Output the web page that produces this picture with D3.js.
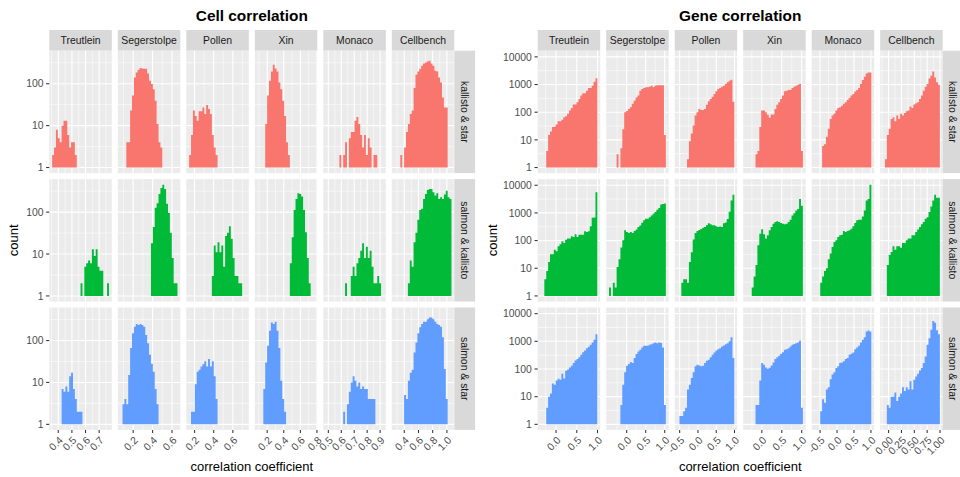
<!DOCTYPE html>
<html><head><meta charset="utf-8">
<script src="https://cdn.jsdelivr.net/npm/d3@7"></script>
<style>body{margin:0;background:#fff;} svg{display:block;font-family:"Liberation Sans",Arial,Helvetica,sans-serif;}</style>
</head><body><svg id="chart" width="960" height="477"></svg>
<script>
const datasets = ["Treutlein","Segerstolpe","Pollen","Xin","Monaco","Cellbench"];
const comparisons = ["kallisto & star","salmon & kallisto","salmon & star"];
const fills = ["#F8766D","#00BA38","#619CFF"];

// bin ranges (first bin left edge, last bin right edge), 30 bins per column
const cellBinRange = [[0.355,0.772],[0.071,0.656],[0.143,0.737],[0.085,0.770],[0.483,0.922],[0.265,1.064]];
const geneBinRange = [[-0.374,0.996],[-0.464,1.030],[-0.558,0.996],[-0.396,1.029],[-0.663,1.013],[-0.108,0.997]];

const cellXTicks = [[0.4,0.5,0.6,0.7],[0.2,0.4,0.6],[0.2,0.4,0.6],[0.2,0.4,0.6,0.8],[0.5,0.6,0.7,0.8,0.9],[0.4,0.6,0.8,1.0]];
const cellXLabels = [["0.4","0.5","0.6","0.7"],["0.2","0.4","0.6"],["0.2","0.4","0.6"],["0.2","0.4","0.6","0.8"],["0.5","0.6","0.7","0.8","0.9"],["0.4","0.6","0.8","1.0"]];
const geneXTicks = [[0,0.5,1],[0,0.5,1],[-0.5,0,0.5,1],[0,0.5,1],[-0.5,0,0.5,1],[0,0.25,0.5,0.75,1]];
const geneXLabels = [["0.0","0.5","1.0"],["0.0","0.5","1.0"],["-0.5","0.0","0.5","1.0"],["0.0","0.5","1.0"],["-0.5","0.0","0.5","1.0"],["0.00","0.25","0.50","0.75","1.00"]];
const cellYTicks = [1,10,100];
const geneYTicks = [1,10,100,1000,10000];

// Cell correlation counts (per dataset, 30 bins)
const cellKallistoStar = [
 [2,3,8,5,4,10,13,13,6,3,4,4,2,0,0,0,0,0,0,0,0,0,0,0,0,0,0,0,0,0],
 [0,0,0,4,4,23,52,141,186,215,237,232,228,228,176,118,98,74,39,11,4,3,0,0,0,0,0,0,0,0],
 [2,6,23,17,13,22,22,27,19,31,25,19,6,3,2,0,0,0,0,0,0,0,0,0,0,0,0,0,0,0],
 [0,0,0,0,11,52,117,197,282,232,197,107,74,39,17,4,2,0,0,0,0,0,0,0,0,0,0,0,0,0],
 [0,0,0,0,0,0,0,2,0,2,4,0,5,7,7,13,16,11,6,3,6,2,5,3,0,2,2,0,0,0],
 [0,0,0,2,0,3,7,11,19,23,79,164,197,223,268,305,323,340,354,305,268,204,197,140,107,47,27,27,0,0]
];
const cellSalmonKallisto = [
 [0,0,0,0,0,0,0,0,0,0,0,0,0,0,0,2,0,5,6,7,6,13,9,13,5,4,4,0,0,2],
 [0,0,0,0,0,0,0,0,0,0,0,0,0,0,0,0,18,44,127,163,272,377,452,356,158,95,32,8,2,2],
 [0,0,0,0,0,0,0,0,0,0,0,0,3,16,11,19,11,16,5,27,32,46,23,8,3,3,2,2,0,0],
 [0,0,0,0,0,0,0,0,0,0,0,0,0,0,0,0,0,6,25,113,207,281,271,235,113,33,8,2,0,0],
 [0,0,0,0,0,0,0,0,0,0,2,0,0,3,5,3,6,8,12,18,8,15,8,12,5,2,2,3,2,0],
 [0,0,0,0,0,0,0,2,7,5,19,32,66,113,120,207,272,337,356,356,298,248,281,207,227,207,262,325,227,207]
];
const cellSalmonStar = [
 [0,0,0,0,0,7,6,8,6,14,17,7,4,2,2,2,0,0,0,0,0,0,0,0,0,0,0,0,0,0],
 [0,3,4,3,15,66,149,214,248,235,248,235,214,136,86,46,28,18,7,3,0,0,0,0,0,0,0,0,0,0],
 [0,2,2,9,18,20,24,27,32,24,36,24,32,14,4,0,0,0,0,0,0,0,0,0,0,0,0,0,0,0],
 [0,0,0,7,30,75,172,268,248,280,172,66,11,4,2,0,0,0,0,0,0,0,0,0,0,0,0,0,0,0],
 [0,0,0,0,0,0,0,0,0,2,0,3,6,10,14,11,8,10,7,8,7,7,4,4,4,4,0,0,0,0],
 [0,0,0,0,0,5,4,11,17,20,52,90,149,207,248,280,280,320,354,354,320,280,248,235,214,120,21,4,0,0]
];

// Gene correlation counts
const geneKallistoStar = [
 [0,0,0,4,15,20,29,30,36,47,47,53,66,72,87,114,143,188,188,228,300,397,481,481,600,750,750,908,1260,1700],
 [0,0,0,0,3,0,5,24,100,110,130,150,200,260,340,400,600,690,750,790,790,830,900,790,900,950,950,950,950,15],
 [0,0,0,0,0,2,9,17,33,76,100,131,121,121,131,184,250,300,365,455,570,690,750,830,900,1050,1200,1380,1500,240],
 [0,0,0,0,0,3,4,29,115,115,100,80,63,82,82,131,184,228,300,397,570,600,640,640,750,830,900,980,1050,4],
 [0,0,0,0,6,7,13,25,57,76,87,115,143,150,172,200,228,277,325,397,455,555,640,750,1050,1450,1900,2500,2700,2700],
 [0,2,15,25,57,66,47,76,57,87,76,94,108,115,160,143,188,210,228,300,397,600,830,1050,1660,2080,2960,1800,1200,980]
];
const geneSalmonKallisto = [
 [0,0,4,8,17,32,32,47,41,62,74,95,82,108,118,118,143,135,169,135,164,164,164,216,205,216,327,670,680,5560],
 [2,0,3,2,11,21,56,102,235,205,190,205,190,220,250,310,350,440,540,620,620,700,800,930,1070,1290,1520,2000,2100,2200],
 [0,0,3,4,4,3,17,38,110,190,220,240,265,290,310,360,420,390,360,360,330,310,320,310,420,450,600,1100,2800,4500],
 [0,0,0,2,5,13,68,178,255,169,118,155,235,310,410,465,495,465,430,410,390,410,465,570,810,980,1220,1400,3200,1800],
 [0,0,0,3,5,8,10,21,34,59,89,103,135,155,164,220,205,220,235,270,327,430,540,570,570,750,1220,2800,3200,10500],
 [0,0,13,30,39,62,47,62,62,55,82,82,103,118,118,155,155,205,250,310,390,465,620,700,1070,1700,2800,4500,3500,3500]
];
const geneSalmonStar = [
 [0,0,0,4,10,13,30,27,38,44,41,68,45,87,95,114,131,164,204,228,268,325,405,467,566,640,750,900,1150,1800],
 [0,0,0,0,0,0,5,27,76,131,150,178,164,248,345,430,497,600,690,690,690,750,790,850,900,850,900,870,600,5],
 [0,2,2,3,4,18,27,47,76,125,143,135,125,131,164,200,215,268,325,395,467,520,566,650,700,790,850,1000,1400,250],
 [0,0,0,0,0,5,5,38,165,143,114,102,110,135,173,228,268,300,355,405,500,520,566,650,750,800,850,900,1050,4],
 [0,0,0,3,8,6,18,22,43,63,76,109,125,164,173,190,228,248,325,355,395,520,600,690,900,1140,1400,2250,2450,2250],
 [0,0,5,4,10,10,14,7,10,13,22,16,22,18,36,18,41,54,68,89,109,164,284,750,1300,2600,5400,4700,2500,1800]
];

const svg = d3.select("#chart");

function drawFacet(cfg) {
  const g = svg.append("g");
  const {x0, title, binRanges, xTicks, xLabels, yTicks, rows, yTitleX} = cfg;
  const pw = 62.5, gap = 6, ph = 122.4, top = 50.7, stripH = 20.7, stripW = 20.8;
  const bottom = top + 3*ph + 2*gap;
  const areaRight = x0 + 6*pw + 5*gap;
  const maxCount = d3.max(rows.flat(2));
  const L = Math.log10(maxCount);
  const ylo = -0.05*L, yhi = 1.05*L;
  const fs = 10.4;

  g.append("text").attr("x",(x0+areaRight)/2).attr("y",20.8).attr("text-anchor","middle")
    .attr("font-size",15.4).attr("font-weight","bold").attr("fill","#000").text(title);

  const yMinorLogs = d3.range(Math.floor(ylo)-0.5, yhi+1, 1).filter(v => v>ylo && v<yhi);

  datasets.forEach((ds, c) => {
    const px = x0 + c*(pw+gap);
    const [s,e] = binRanges[c];
    const pad = 0.05*(e-s);
    const x = d3.scaleLinear().domain([s-pad, e+pad]).range([px, px+pw]);
    const bw = (e-s)/30;
    g.append("rect").attr("x",px).attr("y",top-stripH).attr("width",pw).attr("height",stripH).attr("fill","#D9D9D9");
    g.append("text").attr("x",px+pw/2).attr("y",top-stripH/2+fs*0.36).attr("text-anchor","middle")
      .attr("font-size",fs).attr("fill","#1A1A1A").text(ds);
    const tk = xTicks[c];
    const step = tk[1]-tk[0];
    const [d0,d1] = x.domain();
    const xMinors = d3.range(tk[0]-step/2, tk[tk.length-1]+step, step).filter(v => v>d0 && v<d1);

    comparisons.forEach((cmp, r) => {
      const py = top + r*(ph+gap);
      const y = d3.scaleLog().domain([Math.pow(10,ylo), Math.pow(10,yhi)]).range([py+ph, py]);
      const pg = g.append("g");
      pg.append("rect").attr("x",px).attr("y",py).attr("width",pw).attr("height",ph).attr("fill","#EBEBEB");
      yMinorLogs.forEach(v => pg.append("line").attr("x1",px).attr("x2",px+pw)
        .attr("y1",y(Math.pow(10,v))).attr("y2",y(Math.pow(10,v))).attr("stroke","#fff").attr("stroke-width",0.55));
      xMinors.forEach(v => pg.append("line").attr("y1",py).attr("y2",py+ph)
        .attr("x1",x(v)).attr("x2",x(v)).attr("stroke","#fff").attr("stroke-width",0.55));
      yTicks.forEach(v => pg.append("line").attr("x1",px).attr("x2",px+pw)
        .attr("y1",y(v)).attr("y2",y(v)).attr("stroke","#fff").attr("stroke-width",1.1));
      tk.forEach(v => pg.append("line").attr("y1",py).attr("y2",py+ph)
        .attr("x1",x(v)).attr("x2",x(v)).attr("stroke","#fff").attr("stroke-width",1.1));
      // bars: one outline per contiguous run of non-empty bins (avoids seams)
      const counts = rows[r][c];
      const base = y(1);
      let dstr = "";
      let i = 0;
      while (i < counts.length) {
        if (counts[i] < 1) { i++; continue; }
        let j = i;
        let seg = `M${x(s + i*bw)},${base}`;
        while (j < counts.length && counts[j] >= 1) {
          const yy = y(counts[j]);
          seg += `V${yy}H${x(s + (j+1)*bw)}`;
          j++;
        }
        seg += `V${base}Z`;
        dstr += seg;
        i = j;
      }
      pg.append("path").attr("d", dstr).attr("fill", fills[r]);

      if (c === 0) {
        yTicks.forEach(v => {
          g.append("line").attr("x1",px-3.2).attr("x2",px).attr("y1",y(v)).attr("y2",y(v))
            .attr("stroke","#333333").attr("stroke-width",1.07);
          g.append("text").attr("x",px-5.8).attr("y",y(v)+fs*0.36).attr("text-anchor","end")
            .attr("font-size",fs).attr("fill","#4D4D4D").text(v);
        });
      }
      if (c === 5) {
        const sx = px+pw;
        g.append("rect").attr("x",sx).attr("y",py).attr("width",stripW).attr("height",ph).attr("fill","#D9D9D9");
        g.append("text").attr("transform",`translate(${sx+stripW/2-fs*0.36},${py+ph/2}) rotate(90)`)
          .attr("text-anchor","middle").attr("font-size",fs).attr("fill","#1A1A1A").text(cmp);
      }
    });
    tk.forEach((v,k) => {
      g.append("line").attr("x1",x(v)).attr("x2",x(v)).attr("y1",bottom).attr("y2",bottom+3.2)
        .attr("stroke","#333333").attr("stroke-width",1.07);
      g.append("text").attr("transform",`translate(${x(v)},${bottom+5.8}) rotate(-45)`)
        .attr("text-anchor","end").attr("dy","0.72em").attr("font-size",fs).attr("fill","#4D4D4D").text(xLabels[c][k]);
    });
  });

  g.append("text").attr("x",(x0+areaRight)/2).attr("y",470.5).attr("text-anchor","middle")
    .attr("font-size",13).attr("fill","#000").text("correlation coefficient");
  g.append("text").attr("transform",`translate(${yTitleX},${(top+bottom)/2}) rotate(-90)`)
    .attr("text-anchor","middle").attr("font-size",13).attr("fill","#000").text("count");
}

drawFacet({x0:49.3, title:"Cell correlation", binRanges:cellBinRange, xTicks:cellXTicks, xLabels:cellXLabels,
  yTicks:cellYTicks, rows:[cellKallistoStar, cellSalmonKallisto, cellSalmonStar], yTitleX:18.3});
drawFacet({x0:537.7, title:"Gene correlation", binRanges:geneBinRange, xTicks:geneXTicks, xLabels:geneXLabels,
  yTicks:geneYTicks, rows:[geneKallistoStar, geneSalmonKallisto, geneSalmonStar], yTitleX:496.7});
</script></body></html>
